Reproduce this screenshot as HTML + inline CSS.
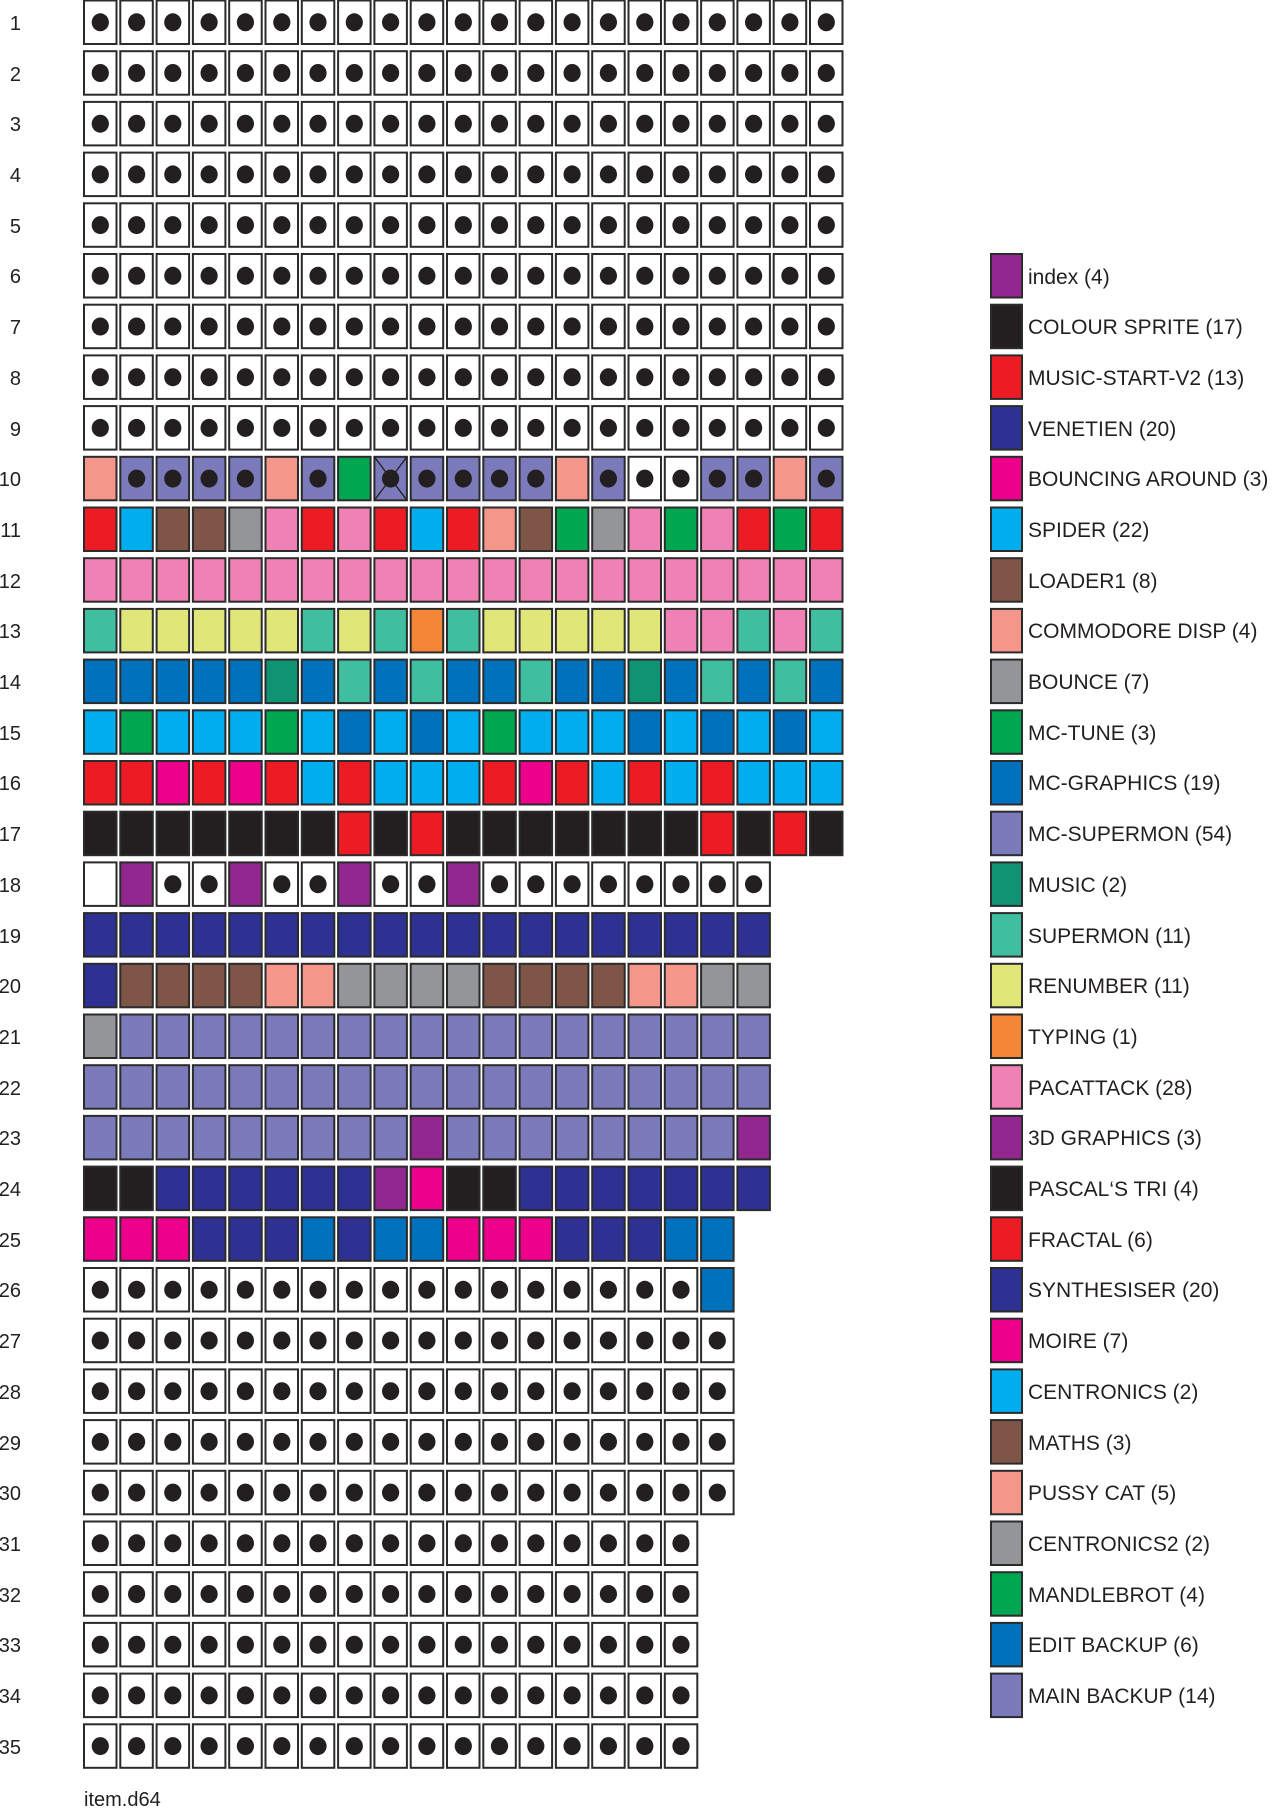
<!DOCTYPE html>
<html><head><meta charset="utf-8"><style>
html,body{margin:0;padding:0;background:#fff;}
svg{display:block;}
text{font-family:"Liberation Sans","DejaVu Sans",sans-serif;fill:#231f20;}
.lab{font-size:20px;text-anchor:end;}
.leg{font-size:21px;}
</style></head><body>
<svg id="s" width="1275" height="1809" xmlns="http://www.w3.org/2000/svg">
<g id="cells"></g>
<g id="labels">
<text class="lab" x="21" y="30">1</text><text class="lab" x="21" y="81">2</text><text class="lab" x="21" y="131">3</text><text class="lab" x="21" y="182">4</text><text class="lab" x="21" y="233">5</text><text class="lab" x="21" y="283">6</text><text class="lab" x="21" y="334">7</text><text class="lab" x="21" y="385">8</text><text class="lab" x="21" y="436">9</text><text class="lab" x="21" y="486">10</text><text class="lab" x="21" y="537">11</text><text class="lab" x="21" y="588">12</text><text class="lab" x="21" y="638">13</text><text class="lab" x="21" y="689">14</text><text class="lab" x="21" y="740">15</text><text class="lab" x="21" y="790">16</text><text class="lab" x="21" y="841">17</text><text class="lab" x="21" y="892">18</text><text class="lab" x="21" y="943">19</text><text class="lab" x="21" y="993">20</text><text class="lab" x="21" y="1044">21</text><text class="lab" x="21" y="1095">22</text><text class="lab" x="21" y="1145">23</text><text class="lab" x="21" y="1196">24</text><text class="lab" x="21" y="1247">25</text><text class="lab" x="21" y="1297">26</text><text class="lab" x="21" y="1348">27</text><text class="lab" x="21" y="1399">28</text><text class="lab" x="21" y="1450">29</text><text class="lab" x="21" y="1500">30</text><text class="lab" x="21" y="1551">31</text><text class="lab" x="21" y="1602">32</text><text class="lab" x="21" y="1652">33</text><text class="lab" x="21" y="1703">34</text><text class="lab" x="21" y="1754">35</text>
</g>
<g id="legsw"></g>
<g id="legtext">
<text class="leg" x="1028" y="284">index (4)</text>
<text class="leg" x="1028" y="334">COLOUR SPRITE (17)</text>
<text class="leg" x="1028" y="385">MUSIC-START-V2 (13)</text>
<text class="leg" x="1028" y="436">VENETIEN (20)</text>
<text class="leg" x="1028" y="486">BOUNCING AROUND (3)</text>
<text class="leg" x="1028" y="537">SPIDER (22)</text>
<text class="leg" x="1028" y="588">LOADER1 (8)</text>
<text class="leg" x="1028" y="638">COMMODORE DISP (4)</text>
<text class="leg" x="1028" y="689">BOUNCE (7)</text>
<text class="leg" x="1028" y="740">MC-TUNE (3)</text>
<text class="leg" x="1028" y="790">MC-GRAPHICS (19)</text>
<text class="leg" x="1028" y="841">MC-SUPERMON (54)</text>
<text class="leg" x="1028" y="892">MUSIC (2)</text>
<text class="leg" x="1028" y="943">SUPERMON (11)</text>
<text class="leg" x="1028" y="993">RENUMBER (11)</text>
<text class="leg" x="1028" y="1044">TYPING (1)</text>
<text class="leg" x="1028" y="1095">PACATTACK (28)</text>
<text class="leg" x="1028" y="1145">3D GRAPHICS (3)</text>
<text class="leg" x="1028" y="1196">PASCAL‘S TRI (4)</text>
<text class="leg" x="1028" y="1247">FRACTAL (6)</text>
<text class="leg" x="1028" y="1297">SYNTHESISER (20)</text>
<text class="leg" x="1028" y="1348">MOIRE (7)</text>
<text class="leg" x="1028" y="1399">CENTRONICS (2)</text>
<text class="leg" x="1028" y="1450">MATHS (3)</text>
<text class="leg" x="1028" y="1500">PUSSY CAT (5)</text>
<text class="leg" x="1028" y="1551">CENTRONICS2 (2)</text>
<text class="leg" x="1028" y="1602">MANDLEBROT (4)</text>
<text class="leg" x="1028" y="1652">EDIT BACKUP (6)</text>
<text class="leg" x="1028" y="1703">MAIN BACKUP (14)</text>
</g>
<text x="84" y="1806" style="font-size:20px">item.d64</text>
</svg>
<script>
var C={W:'#ffffff',V:'#92278f',K:'#231f20',R:'#ed1c24',N:'#2e3192',Mg:'#ec008c',C:'#00aeef',Br:'#7f5548',S:'#f49689',Gy:'#939598',G:'#00a650',B:'#0071bc',L:'#7b7bbb',M:'#0f9373',T:'#3fbf9f',Y:'#e1e678',O:'#f58537',P:'#f081b4'};
function rep(s,n){var a=[];for(var i=0;i<n;i++)a.push(s);return a;}
var rows=[];
for(var i=0;i<9;i++)rows.push(rep('Wd',21));
rows.push(['S','Ld','Ld','Ld','Ld','S','Ld','G','Lx','Ld','Ld','Ld','Ld','S','Ld','Wd','Wd','Ld','Ld','S','Ld']);
rows.push(['R','C','Br','Br','Gy','P','R','P','R','C','R','S','Br','G','Gy','P','G','P','R','G','R']);
rows.push(rep('P',21));
rows.push(['T','Y','Y','Y','Y','Y','T','Y','T','O','T','Y','Y','Y','Y','Y','P','P','T','P','T']);
rows.push(['B','B','B','B','B','M','B','T','B','T','B','B','T','B','B','M','B','T','B','T','B']);
rows.push(['C','G','C','C','C','G','C','B','C','B','C','G','C','C','C','B','C','B','C','B','C']);
rows.push(['R','R','Mg','R','Mg','R','C','R','C','C','C','R','Mg','R','C','R','C','R','C','C','C']);
rows.push([].concat(rep('K',7),['R','K','R'],rep('K',7),['R','K','R','K']));
rows.push(['W','V','Wd','Wd','V','Wd','Wd','V','Wd','Wd','V'].concat(rep('Wd',8)));
rows.push(rep('N',19));
rows.push(['N'].concat(rep('Br',4),['S','S'],rep('Gy',4),rep('Br',4),['S','S','Gy','Gy']));
rows.push(['Gy'].concat(rep('L',18)));
rows.push(rep('L',19));
rows.push(rep('L',9).concat(['V'],rep('L',8),['V']));
rows.push(['K','K'].concat(rep('N',6),['V','Mg','K','K'],rep('N',7)));
rows.push(['Mg','Mg','Mg','N','N','N','B','N','B','B','Mg','Mg','Mg','N','N','N','B','B']);
rows.push(rep('Wd',17).concat(['B']));
for(var i=0;i<4;i++)rows.push(rep('Wd',18));
for(var i=0;i<5;i++)rows.push(rep('Wd',17));
var h='';
rows.forEach(function(r,ri){
  var y=ri*50.7+0.5;
  r.forEach(function(c,ci){
    var x=84+ci*36.3;
    var col=c.replace(/[dx]$/,'');
    if(c==='Wd'||c==='W')col='W';
    h+='<rect x="'+x.toFixed(1)+'" y="'+y.toFixed(1)+'" width="32.5" height="43.5" fill="'+C[col]+'" stroke="#2b2b2b" stroke-width="2"/>';
    if(c==='Lx')h+='<path d="M'+x.toFixed(1)+' '+y.toFixed(1)+'L'+(x+32.5).toFixed(1)+' '+(y+43.5).toFixed(1)+'M'+(x+32.5).toFixed(1)+' '+y.toFixed(1)+'L'+x.toFixed(1)+' '+(y+43.5).toFixed(1)+'" stroke="#231f20" stroke-width="1.3"/>';
    if(/[dx]$/.test(c))h+='<ellipse cx="'+(x+16.25).toFixed(1)+'" cy="'+(y+21.75).toFixed(1)+'" rx="8.6" ry="9" fill="#231f20"/>';
  });
});
document.getElementById('cells').innerHTML=h;
var lg=['V','K','R','N','Mg','C','Br','S','Gy','G','B','L','M','T','Y','O','P','V','K','R','N','Mg','C','Br','S','Gy','G','B','L'];
var g='';
lg.forEach(function(c,i){var y=(i+5)*50.7+0.5;g+='<rect x="991" y="'+y.toFixed(1)+'" width="31" height="43.5" fill="'+C[c]+'" stroke="#2b2b2b" stroke-width="2"/>';});
document.getElementById('legsw').innerHTML=g;
</script>
</body></html>
